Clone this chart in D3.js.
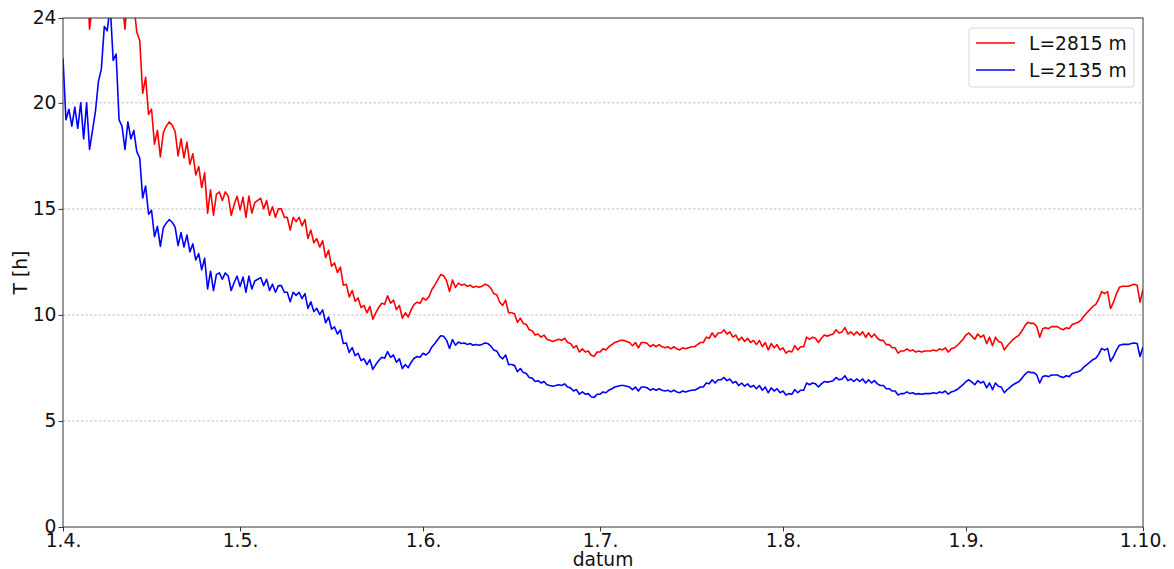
<!DOCTYPE html>
<html>
<head>
<meta charset="utf-8">
<script src="https://cdn.jsdelivr.net/npm/d3@7"></script>
<style>
  html, body { margin: 0; padding: 0; background: #fff; }
  svg { display: block; font-family: "DejaVu Sans", sans-serif; }
</style>
</head>
<body>
<svg id="chart" width="1174" height="569"></svg>
<script>
// ---- data (one sample every 12 h from 1 April) ----
const startDate = Date.UTC(2021, 3, 1);
const stepHours = 12;

const seriesNames = ["L=2815 m", "L=2135 m"];
const seriesColors = ["#ff0000", "#0000ff"];

const tLong = [
  29.14, 25.32, 25.98, 24.92, 26.11, 24.79, 26.37, 24.13, 26.37, 23.47,
  24.66, 25.84, 27.69, 28.48, 31.12, 30.85, 32.44, 29.01, 29.40, 25.32,
  24.92, 23.47, 25.18, 24.13, 24.66, 23.34, 22.94,
  20.45, 21.2, 19.45, 19.7, 18.05, 18.7, 17.45, 18.6, 18.9, 19.1,
  18.95, 18.65, 17.5, 18.3, 17.4, 18.15, 17.1, 17.6, 16.6, 17.0,
  16.0, 16.7, 14.8, 15.9, 14.7, 15.7, 15.8, 15.4, 15.8, 15.6,
  14.7, 15.2, 15.6, 14.95, 15.55, 14.6, 15.6, 14.8, 15.3, 15.4,
  15.5, 15.0, 15.4, 14.7, 15.1, 14.6, 15.0,
  15.0, 14.6, 14.6, 14.0, 14.6, 14.4, 14.6, 14.2, 14.5, 13.6,
  14.0, 13.4, 13.6, 13.2, 13.5, 12.7, 13.05, 12.3, 12.45, 12.0,
  12.25, 11.4, 11.45, 10.85, 11.15, 10.65, 10.8, 10.35, 10.45, 10.1,
  10.4, 9.8, 10.1, 10.35, 10.55, 10.5, 10.9, 10.55, 10.7, 10.25,
  10.45, 9.85, 10.1, 9.9, 10.25, 10.5, 10.6, 10.55, 10.8, 10.7,
  10.85, 11.2, 11.4, 11.65, 11.9, 11.85, 11.6, 11.1, 11.65, 11.3,
  11.5, 11.4, 11.45, 11.35, 11.4, 11.3, 11.35, 11.3, 11.35, 11.45,
  11.4, 11.25, 11.0, 10.95, 10.6, 10.45,
  10.7, 10.1, 10.1, 10.05, 9.65, 9.85, 9.6, 9.55, 9.3, 9.25,
  9.05, 9.1, 8.95, 9.05, 8.85, 8.8, 8.75, 8.8, 8.85, 8.8,
  8.9, 8.7, 8.65, 8.45, 8.55, 8.25, 8.4, 8.25, 8.3, 8.1,
  8.05, 8.25, 8.25, 8.4, 8.35, 8.5, 8.6, 8.7, 8.75, 8.8,
  8.8, 8.75, 8.7, 8.55, 8.7, 8.45, 8.7, 8.7, 8.65, 8.5,
  8.6, 8.5, 8.6, 8.5, 8.45, 8.5, 8.4, 8.5, 8.4, 8.35,
  8.45, 8.4, 8.45, 8.5, 8.5, 8.6, 8.7, 8.7, 8.95, 8.9,
  9.15, 8.95, 9.15, 9.15, 9.3,
  9.1, 9.2, 8.95, 9.05, 8.8, 8.95, 8.75, 8.9, 8.7, 8.8,
  8.6, 8.8, 8.5, 8.7, 8.35, 8.65, 8.45, 8.6, 8.35, 8.45,
  8.2, 8.3, 8.25, 8.55, 8.35, 8.5, 8.5, 8.95, 8.85, 8.95,
  8.9, 8.7, 8.9, 9.05, 9.0, 9.05, 9.1, 9.3, 9.15, 9.2,
  9.4, 9.1, 9.2, 9.05, 9.2, 9.05, 9.2, 8.95, 9.15, 8.95,
  9.1, 8.9, 8.8, 8.8, 8.6, 8.6, 8.45, 8.45, 8.2, 8.3,
  8.3, 8.4, 8.3, 8.35, 8.25, 8.3, 8.25, 8.3, 8.3, 8.3,
  8.35, 8.3, 8.4, 8.35,
  8.45, 8.25, 8.4, 8.45, 8.55, 8.7, 8.85, 9.05, 9.15, 9.0,
  8.85, 9.1, 8.95, 9.05, 8.65, 8.95, 8.55, 8.95, 8.75, 8.7,
  8.35, 8.55, 8.7, 8.85, 8.95, 9.05, 9.25, 9.5, 9.65, 9.6,
  9.6, 9.45, 8.95, 9.35, 9.4, 9.35, 9.45, 9.45, 9.45, 9.35,
  9.3, 9.4, 9.35, 9.55, 9.6, 9.65, 9.75, 9.95, 10.1, 10.25,
  10.4, 10.5, 10.75, 11.1, 11.0, 11.1, 10.3, 10.6, 11.0, 11.3,
  11.35, 11.35, 11.35, 11.4, 11.45, 11.4, 10.6, 11.2
];

const tShort = [
  22.1, 19.2, 19.7, 18.9, 19.8, 18.8, 20.0, 18.3, 20.0, 17.8,
  18.7, 19.6, 21.0, 21.6, 23.6, 23.4, 24.6, 22.0, 22.3, 19.2,
  18.9, 17.8, 19.1, 18.3, 18.7, 17.7, 17.4,
  15.51, 16.08, 14.75, 14.94, 13.69, 14.18, 13.23, 14.11, 14.33, 14.49,
  14.37, 14.14, 13.27, 13.88, 13.20, 13.77, 12.97, 13.35, 12.59, 12.89,
  12.13, 12.67, 11.22, 12.06, 11.15, 11.91, 11.98, 11.68, 11.98, 11.83,
  11.15, 11.53, 11.83, 11.34, 11.79, 11.07, 11.83, 11.22, 11.60, 11.68,
  11.76, 11.38, 11.68, 11.15, 11.45, 11.07, 11.38,
  11.38, 11.07, 11.07, 10.62, 11.07, 10.92, 11.07, 10.77, 11.00, 10.31,
  10.62, 10.16, 10.31, 10.01, 10.24, 9.63, 9.90, 9.33, 9.44, 9.10,
  9.29, 8.65, 8.68, 8.23, 8.46, 8.08, 8.19, 7.85, 7.93, 7.66,
  7.89, 7.43, 7.66, 7.85, 8.00, 7.96, 8.27, 8.00, 8.11, 7.77,
  7.93, 7.47, 7.66, 7.51, 7.77, 7.96, 8.04, 8.00, 8.19, 8.11,
  8.23, 8.49, 8.65, 8.84, 9.02, 8.99, 8.80, 8.42, 8.84, 8.57,
  8.72, 8.65, 8.68, 8.61, 8.65, 8.57, 8.61, 8.57, 8.61, 8.68,
  8.65, 8.53, 8.34, 8.30, 8.04, 7.93,
  8.11, 7.66, 7.66, 7.62, 7.32, 7.47, 7.28, 7.24, 7.05, 7.02,
  6.86, 6.90, 6.79, 6.86, 6.71, 6.67, 6.64, 6.67, 6.71, 6.67,
  6.75, 6.60, 6.56, 6.41, 6.48, 6.26, 6.37, 6.26, 6.29, 6.14,
  6.11, 6.26, 6.26, 6.37, 6.33, 6.45, 6.52, 6.60, 6.64, 6.67,
  6.67, 6.64, 6.60, 6.48, 6.60, 6.41, 6.60, 6.60, 6.56, 6.45,
  6.52, 6.45, 6.52, 6.45, 6.41, 6.45, 6.37, 6.45, 6.37, 6.33,
  6.41, 6.37, 6.41, 6.45, 6.45, 6.52, 6.60, 6.60, 6.79, 6.75,
  6.94, 6.79, 6.94, 6.94, 7.05,
  6.90, 6.98, 6.79, 6.86, 6.67, 6.79, 6.64, 6.75, 6.60, 6.67,
  6.52, 6.67, 6.45, 6.60, 6.33, 6.56, 6.41, 6.52, 6.33, 6.41,
  6.22, 6.29, 6.26, 6.48, 6.33, 6.45, 6.45, 6.79, 6.71, 6.79,
  6.75, 6.60, 6.75, 6.86, 6.83, 6.86, 6.90, 7.05, 6.94, 6.98,
  7.13, 6.90, 6.98, 6.86, 6.98, 6.86, 6.98, 6.79, 6.94, 6.79,
  6.90, 6.75, 6.67, 6.67, 6.52, 6.52, 6.41, 6.41, 6.22, 6.29,
  6.29, 6.37, 6.29, 6.33, 6.26, 6.29, 6.26, 6.29, 6.29, 6.29,
  6.33, 6.29, 6.37, 6.33,
  6.41, 6.26, 6.37, 6.41, 6.48, 6.60, 6.71, 6.86, 6.94, 6.83,
  6.71, 6.90, 6.79, 6.86, 6.56, 6.79, 6.48, 6.79, 6.64, 6.60,
  6.33, 6.48, 6.60, 6.71, 6.79, 6.86, 7.02, 7.20, 7.32, 7.28,
  7.28, 7.17, 6.79, 7.09, 7.13, 7.09, 7.17, 7.17, 7.17, 7.09,
  7.05, 7.13, 7.09, 7.24, 7.28, 7.32, 7.39, 7.55, 7.66, 7.77,
  7.89, 7.96, 8.15, 8.42, 8.34, 8.42, 7.81, 8.04, 8.34, 8.57,
  8.61, 8.61, 8.61, 8.65, 8.68, 8.65, 8.04, 8.49
];

const xTickDates = ["2021-04-01", "2021-05-01", "2021-06-01", "2021-07-01", "2021-08-01", "2021-09-01", "2021-10-01"];
const xTickLabels = ["1.4.", "1.5.", "1.6.", "1.7.", "1.8.", "1.9.", "1.10."];
const yTicks = [0, 5, 10, 15, 20, 24];
const yGrid = [5, 10, 15, 20];
const yDomain = [0, 24];
const xLabel = "datum";
const yLabel = "T [h]";

// ---- layout ----
const W = 1174, H = 569;
const margin = { left: 63, right: 31, top: 18, bottom: 42 };
const iw = W - margin.left - margin.right;
const ih = H - margin.top - margin.bottom;

const svg = d3.select("#chart");
const g = svg.append("g").attr("transform", `translate(${margin.left},${margin.top})`);

const dates = tLong.map((_, i) => new Date(startDate + i * stepHours * 3600 * 1000));
const xTicks = xTickDates.map(s => new Date(s + "T00:00:00Z"));

const x = d3.scaleUtc().domain([xTicks[0], xTicks[xTicks.length - 1]]).range([0, iw]);
const y = d3.scaleLinear().domain(yDomain).range([ih, 0]);

// grid
g.append("g").selectAll("line").data(yGrid).join("line")
  .attr("x1", 0).attr("x2", iw)
  .attr("y1", d => y(d)).attr("y2", d => y(d))
  .attr("stroke", "#b0b0b0").attr("stroke-width", 0.8)
  .attr("stroke-dasharray", "2.5,2");

// clip
svg.append("defs").append("clipPath").attr("id", "plotclip")
  .append("rect").attr("x", 0).attr("y", 0).attr("width", iw).attr("height", ih);

const line = d3.line().x((d, i) => x(dates[i])).y(d => y(d));
const series = [tLong, tShort];
const lines = g.append("g").attr("clip-path", "url(#plotclip)");
series.forEach((s, k) => {
  lines.append("path").datum(s)
    .attr("d", line)
    .attr("fill", "none")
    .attr("stroke", seriesColors[k])
    .attr("stroke-width", 1.6)
    .attr("stroke-linejoin", "round");
});

// axes
const fontSize = 18.7;
const xAxis = d3.axisBottom(x).tickValues(xTicks)
  .tickFormat((d, i) => xTickLabels[i]).tickSize(4.5).tickPadding(3);
const gx = g.append("g").attr("transform", `translate(0,${ih})`).call(xAxis);
const yAxis = d3.axisLeft(y).tickValues(yTicks).tickFormat(d3.format("d")).tickSize(4.5).tickPadding(2);
const gy = g.append("g").call(yAxis);
[gx, gy].forEach(a => {
  a.select(".domain").remove();
  a.selectAll(".tick line").attr("stroke", "#333").attr("stroke-width", 1);
  a.selectAll(".tick text").attr("fill", "#111").style("font-size", fontSize + "px")
    .style("font-family", "'DejaVu Sans', sans-serif");
});
gx.selectAll(".tick text").attr("dy", "0.66em");
gy.selectAll(".tick text").attr("dy", "0.3em");

// frame
g.append("rect").attr("x", 0).attr("y", 0).attr("width", iw).attr("height", ih)
  .attr("fill", "none").attr("stroke", "#333").attr("stroke-width", 1);

// axis labels
svg.append("text").attr("x", margin.left + iw / 2).attr("y", H - 3.5)
  .attr("text-anchor", "middle").style("font-size", fontSize + "px").attr("fill", "#111")
  .text(xLabel);
svg.append("text").attr("transform", `translate(27,${margin.top + ih / 2}) rotate(-90)`)
  .attr("text-anchor", "middle").style("font-size", fontSize + "px").attr("fill", "#111")
  .text(yLabel);

// legend
const lg = g.append("g").attr("transform", `translate(${iw - 174},${10})`);
lg.append("rect").attr("x", 0).attr("y", 0).attr("width", 165).attr("height", 59)
  .attr("rx", 3).attr("fill", "#fff").attr("fill-opacity", 0.8)
  .attr("stroke", "#d6d6d6").attr("stroke-width", 1);
seriesNames.forEach((name, k) => {
  const yy = 15 + k * 27;
  lg.append("line").attr("x1", 7).attr("x2", 46).attr("y1", yy).attr("y2", yy)
    .attr("stroke", seriesColors[k]).attr("stroke-width", 1.5);
  lg.append("text").attr("x", 60).attr("y", yy).attr("dy", "0.35em")
    .style("font-size", fontSize + "px").attr("fill", "#111").text(name);
});
</script>
</body>
</html>
